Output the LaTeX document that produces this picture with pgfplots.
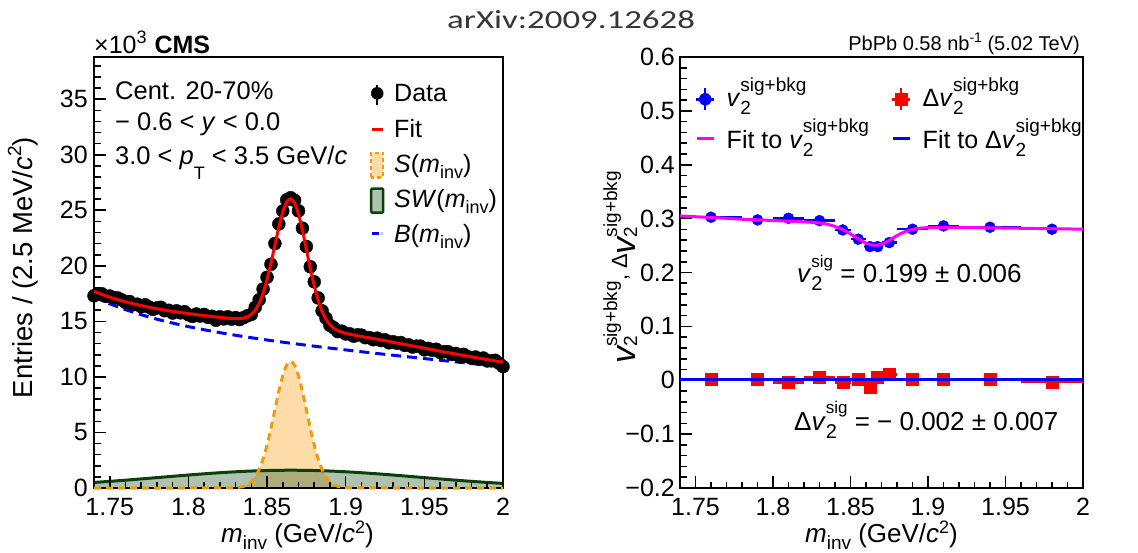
\documentclass[border=0pt]{standalone}
\usepackage{fontspec}
\setmainfont{Liberation Sans}
\newfontfamily\arxivfont[FakeStretch=1.34]{Carlito}
\usepackage{graphicx}
\usepackage{pgfplots}
\usepackage{pgfplotstable}
\pgfplotsset{compat=1.18}

\definecolor{fitred}{HTML}{FF0000}
\definecolor{bkgblue}{HTML}{0000FF}
\definecolor{sorange}{HTML}{F09B0C}
\definecolor{sfill}{HTML}{FDDCA9}
\definecolor{swline}{HTML}{0B400B}
\definecolor{swfill}{HTML}{2E5E2E}
\definecolor{vmag}{HTML}{FF00FF}
\definecolor{arxivgray}{HTML}{3A3535}

\newcommand\fs[1]{\fontsize{#1}{#1}\selectfont}
% size, shift, text
\newcommand\Sup[3]{\raisebox{#2}{\fs{#1}#3}}
\newcommand\Sub[3]{\raisebox{-#2}{\fs{#1}#3}}
% supsize, subsize, raise, lower, sup, sub
\newcommand\SupSub[6]{\rlap{\raisebox{-#4}{\fs{#2}#6}}\raisebox{#3}{\fs{#1}#5}}
\newcommand\bigv{\raisebox{-8pt}{\fs{34}\itshape v}}

% invariant mass spectrum: fit and data (x10^3 entries)
\pgfplotstableread{
m fit data
1.74 17.70 17.30
1.7425 17.56 17.46
1.745 17.43 17.48
1.7475 17.30 17.25
1.75 17.18 17.28
1.7525 17.07 17.12
1.755 16.96 17.11
1.7575 16.86 16.94
1.76 16.76 16.71
1.7625 16.67 16.79
1.765 16.58 16.50
1.7675 16.50 16.55
1.77 16.42 16.32
1.7725 16.34 16.49
1.775 16.27 16.29
1.7775 16.20 16.08
1.78 16.13 16.21
1.7825 16.07 16.27
1.785 16.01 15.96
1.7875 15.95 16.00
1.79 15.90 15.75
1.7925 15.85 15.95
1.795 15.79 15.77
1.7975 15.75 15.87
1.80 15.70 15.60
1.8025 15.65 15.45
1.805 15.61 15.66
1.8075 15.56 15.48
1.81 15.52 15.62
1.8125 15.48 15.36
1.815 15.44 15.46
1.8175 15.40 15.10
1.82 15.36 15.41
1.8225 15.32 15.22
1.825 15.29 15.41
1.8275 15.25 15.20
1.83 15.24 15.34
1.8325 15.24 15.16
1.835 15.28 15.33
1.8375 15.40 15.50
1.84 15.63 15.63
1.8425 16.02 16.27
1.845 16.65 16.95
1.8475 17.56 17.91
1.85 18.77 18.97
1.8525 20.24 20.14
1.855 21.86 22.01
1.8575 23.47 23.77
1.86 24.84 24.94
1.8625 25.74 25.94
1.865 26.03 26.13
1.8675 25.65 25.90
1.87 24.65 24.95
1.8725 23.19 23.39
1.875 21.49 21.74
1.8775 19.77 19.92
1.88 18.21 18.56
1.8825 16.91 17.11
1.885 15.90 15.95
1.8875 15.18 15.28
1.89 14.69 14.64
1.8925 14.37 14.42
1.895 14.16 14.08
1.8975 14.02 14.12
1.90 13.92 13.87
1.9025 13.83 13.88
1.905 13.77 13.67
1.9075 13.71 13.79
1.91 13.64 13.76
1.9125 13.58 13.53
1.915 13.52 13.54
1.9175 13.45 13.35
1.92 13.39 13.49
1.9225 13.32 13.27
1.925 13.26 13.34
1.9275 13.19 13.07
1.93 13.12 13.17
1.9325 13.06 13.04
1.935 12.99 13.09
1.9375 12.92 12.84
1.94 12.86 12.89
1.9425 12.79 12.69
1.945 12.72 12.77
1.9475 12.65 12.77
1.95 12.59 12.44
1.9525 12.52 12.57
1.955 12.45 12.40
1.9575 12.39 12.49
1.96 12.32 12.20
1.9625 12.25 12.27
1.965 12.19 12.27
1.9675 12.12 12.02
1.97 12.06 12.11
1.9725 11.99 11.84
1.975 11.93 12.03
1.9775 11.87 11.82
1.98 11.80 11.68
1.9825 11.74 11.79
1.985 11.68 11.58
1.9875 11.62 11.70
1.99 11.56 11.44
1.9925 11.50 11.45
1.995 11.44 11.49
1.9975 11.39 11.24
2.00 11.33 10.93
}\masstab

% background B(m)
\pgfplotstableread{
m b
1.74 17.200
1.75 16.586
1.76 16.058
1.77 15.600
1.78 15.199
1.79 14.846
1.80 14.529
1.81 14.245
1.82 13.987
1.83 13.749
1.84 13.529
1.85 13.323
1.86 13.128
1.87 12.943
1.88 12.766
1.89 12.595
1.90 12.429
1.91 12.268
1.92 12.110
1.93 11.954
1.94 11.802
1.95 11.651
1.96 11.501
1.97 11.353
1.98 11.206
1.99 11.060
2.00 10.914
}\bkgtab

% swapped K-pi SW(m)
\pgfplotstableread{
m sw
1.74 0.501
1.75 0.598
1.76 0.705
1.77 0.818
1.78 0.935
1.79 1.053
1.80 1.169
1.81 1.278
1.82 1.376
1.83 1.461
1.84 1.527
1.85 1.573
1.86 1.597
1.865 1.600
1.87 1.597
1.88 1.573
1.89 1.527
1.90 1.461
1.91 1.376
1.92 1.278
1.93 1.169
1.94 1.053
1.95 0.935
1.96 0.818
1.97 0.705
1.98 0.598
1.99 0.501
2.00 0.413
}\swtab

% signal S(m)
\pgfplotstableread{
m s
1.74 0
1.80 0
1.825 0.01
1.83 0.03
1.8325 0.07
1.835 0.15
1.8375 0.30
1.84 0.57
1.8425 1.00
1.845 1.67
1.8475 2.62
1.85 3.87
1.8525 5.38
1.855 7.05
1.8575 8.70
1.86 10.11
1.8625 11.06
1.865 11.40
1.8675 11.06
1.87 10.11
1.8725 8.70
1.875 7.05
1.8775 5.38
1.88 3.87
1.8825 2.62
1.885 1.67
1.8875 1.00
1.89 0.57
1.8925 0.30
1.895 0.15
1.8975 0.07
1.90 0.03
1.905 0.01
1.93 0
2.00 0
}\sigtab

\begin{document}
\begin{tikzpicture}[x=1pt,y=1pt]
\useasboundingbox (0,0) rectangle (1138,552);

\pgfplotsset{
  rootframe/.style={
    scale only axis, anchor=south west,
    xmin=1.74, xmax=2.0,
    xtick={1.75,1.8,1.85,1.9,1.95,2.0},
    xticklabels={1.75,1.8,1.85,1.9,1.95,2},
    minor xtick={1.74,1.75,...,2.0},
    tick align=inside, tick pos=left,
    major tick length=12pt, minor tick length=6.5pt,
    every tick/.style={black, line width=1.6pt},
    axis line style={black, line width=2pt},
    tick label style={font=\fs{25}},
    xticklabel style={inner sep=0pt, yshift=-10pt},
    clip=false,
  },
  overlay/.style={scale only axis, anchor=south west, xmin=1.74, xmax=2.0,
    hide axis, clip=false},
}

% ---------------- left panel ----------------
\begin{axis}[rootframe,
  at={(94pt,64pt)}, width=409pt, height=431pt,
  axis on top,
  ymin=0, ymax=38.8,
  ytick={0,5,10,15,20,25,30,35},
  yticklabels={0,5,10,15,20,25,30,35},
  minor ytick={0,1,...,38},
  yticklabel style={inner sep=0pt, xshift=-6pt},
  legend cell align=left,
  legend style={at={(axis description cs:0.6748,0.9473)}, anchor=north west,
    draw=none, fill=none, inner sep=0pt, outer sep=0pt, font=\fs{25},
    row sep=5.3pt, column sep=9.5pt,
    cells={anchor=base west},
    nodes={inner sep=0pt, outer sep=0pt, anchor=base west, text height=22pt, text depth=8pt}},
]
\addplot[draw=none, fill=sfill, smooth, forget plot] table[x=m,y=s] {\sigtab} \closedcycle;
\addplot[draw=none, fill=swfill, fill opacity=0.38, smooth, forget plot] table[x=m,y=sw] {\swtab} \closedcycle;
\addplot[swline, line width=3pt, smooth, forget plot] table[x=m,y=sw] {\swtab};
\addplot[bkgblue, line width=3pt, dash pattern=on 10pt off 6pt, smooth, forget plot] table[x=m,y=b] {\bkgtab};
\addplot[only marks, mark=*, mark size=6.5pt, black, forget plot] table[x=m,y=data] {\masstab};

\addlegendimage{legend image code/.code={
  \draw[black, line width=2pt] (6.5pt,-3.3pt) -- (6.5pt,16.7pt);
  \fill[black] (6.5pt,8.4pt) circle (6pt);}}
\addlegendentry{Data}
\addlegendimage{legend image code/.code={
  \draw[fitred, line width=3pt] (1pt,7.4pt) -- (12pt,7.4pt);}}
\addlegendentry{Fit}
\addlegendimage{legend image code/.code={
  \draw[fill=sfill, draw=sorange, line width=2.5pt, dash pattern=on 4pt off 3pt] (0.5pt,-5pt) rectangle (12.5pt,19.5pt);}}
\addlegendentry{\textit{S}(\textit{m}\Sub{18}{6pt}{inv})}
\addlegendimage{legend image code/.code={
  \fill[white] (0.5pt,-5pt) rectangle (12.5pt,19pt);
  \draw[fill=swfill, fill opacity=0.38, draw=swline, draw opacity=1, line width=2.5pt, rounded corners=1pt] (0.5pt,-5pt) rectangle (12.5pt,19pt);}}
\addlegendentry{\textit{SW}(\textit{m}\Sub{18}{6pt}{inv})}
\addlegendimage{legend image code/.code={
  \draw[bkgblue, line width=3pt] (1pt,9pt) -- (8pt,9pt);
  \draw[bkgblue!25, line width=3pt] (10pt,9pt) -- (12.5pt,9pt);}}
\addlegendentry{\textit{B}(\textit{m}\Sub{18}{6pt}{inv})}
\end{axis}

% signal outline and total fit drawn over the frame and the data points
\begin{axis}[overlay, at={(94pt,64pt)}, width=409pt, height=431pt, ymin=0, ymax=38.8]
\addplot[sorange, line width=3pt, dash pattern=on 7pt off 5pt, smooth] table[x=m,y=s] {\sigtab};
\addplot[fitred, line width=3pt, smooth] table[x=m,y=fit] {\masstab};
\end{axis}

% ---------------- right panel ----------------
\begin{axis}[rootframe,
  at={(680pt,64pt)}, width=403pt, height=431pt,
  ymin=-0.2, ymax=0.6,
  ytick={-0.2,-0.1,0,0.1,0.2,0.3,0.4,0.5,0.6},
  yticklabels={−0.2,−0.1,0,0.1,0.2,0.3,0.4,0.5,0.6},
  minor ytick={-0.2,-0.18,...,0.6},
  yticklabel style={inner sep=0pt, xshift=-5pt},
  legend columns=2,
  legend cell align=left,
  legend style={at={(axis description cs:0.0372,0.9497)}, anchor=north west,
    draw=none, fill=none, inner sep=0pt, outer sep=0pt, font=\fs{25},
    row sep=4.6pt, column sep=11pt,
    cells={anchor=base west},
    nodes={inner sep=0pt, outer sep=0pt, anchor=base west, text height=28pt, text depth=9pt},
    /tikz/every even column/.append style={column sep=22pt}},
]
% v2 sig+bkg
\addplot[only marks, mark=*, mark size=5.5pt, color=bkgblue, forget plot,
  error bars/.cd, x dir=both, x explicit, error mark=none,
  error bar style={line width=2.5pt, bkgblue}]
  coordinates {
  (1.76,0.3026) +- (0.02,0)
  (1.79,0.2976) +- (0.01,0)
  (1.81,0.3007) +- (0.01,0)
  (1.83,0.2963) +- (0.01,0)
  (1.845,0.279) +- (0.005,0)
  (1.855,0.2618) +- (0.005,0)
  (1.8625,0.248) +- (0.0025,0)
  (1.8675,0.248) +- (0.0025,0)
  (1.875,0.2555) +- (0.005,0)
  (1.89,0.2803) +- (0.01,0)
  (1.91,0.2865) +- (0.01,0)
  (1.94,0.284) +- (0.02,0)
  (1.98,0.2803) +- (0.02,0)
  };
% Delta v2 sig+bkg
\addplot[only marks, mark=square*, mark size=6pt, color=fitred, forget plot,
  error bars/.cd, x dir=both, x explicit, error mark=none,
  error bar style={line width=2.5pt, fitred}]
  coordinates {
  (1.76,0.002) +- (0.02,0)
  (1.79,0.002) +- (0.01,0)
  (1.81,-0.004) +- (0.01,0)
  (1.83,0.006) +- (0.01,0)
  (1.845,-0.004) +- (0.005,0)
  (1.855,0.002) +- (0.005,0)
  (1.8625,-0.012) +- (0.0025,0)
  (1.8675,0.005) +- (0.0025,0)
  (1.875,0.011) +- (0.005,0)
  (1.89,0.002) +- (0.01,0)
  (1.91,0.002) +- (0.01,0)
  (1.94,0.002) +- (0.02,0)
  (1.98,-0.003) +- (0.02,0)
  };

\addlegendimage{legend image code/.code={
  \draw[bkgblue, line width=2.5pt] (0pt,7.4pt) -- (18pt,7.4pt);
  \draw[bkgblue, line width=2.5pt] (9pt,-3.5pt) -- (9pt,18.5pt);
  \fill[bkgblue] (9pt,7.4pt) circle (6pt);}}
\addlegendentry{\textit{v}\SupSub{19}{19}{15.5pt}{8.3pt}{sig+bkg}{2}}
\addlegendimage{legend image code/.code={
  \draw[fitred, line width=2.5pt] (0pt,7.4pt) -- (18pt,7.4pt);
  \draw[fitred, line width=2.5pt] (9pt,-3.5pt) -- (9pt,18.5pt);
  \fill[fitred] (3pt,1.4pt) rectangle (15pt,13.4pt);}}
\addlegendentry{Δ\textit{v}\SupSub{19}{19}{15.5pt}{8.3pt}{sig+bkg}{2}}
\addlegendimage{legend image code/.code={
  \draw[vmag, line width=3pt] (1pt,10pt) -- (18pt,10pt);}}
\addlegendentry{Fit to \textit{v}\SupSub{19}{19}{15.5pt}{8.3pt}{sig+bkg}{2}}
\addlegendimage{legend image code/.code={
  \draw[bkgblue, line width=3pt] (1pt,10pt) -- (18pt,10pt);}}
\addlegendentry{Fit to Δ\textit{v}\SupSub{19}{19}{15.5pt}{8.3pt}{sig+bkg}{2}}
\end{axis}

% fits drawn over the points
\begin{axis}[overlay, at={(680pt,64pt)}, width=403pt, height=431pt, ymin=-0.2, ymax=0.6]
% fit to v2
\addplot[vmag, line width=3pt, smooth] coordinates {
  (1.74,0.305) (1.75,0.3035) (1.76,0.302) (1.77,0.3005) (1.78,0.299)
  (1.79,0.2978) (1.80,0.2965) (1.81,0.2953) (1.82,0.294) (1.83,0.292)
  (1.835,0.2895) (1.84,0.2855) (1.845,0.2795) (1.85,0.2715) (1.855,0.2625)
  (1.86,0.2545) (1.865,0.2505) (1.87,0.2525) (1.875,0.2595) (1.88,0.2685)
  (1.885,0.2755) (1.89,0.2800) (1.895,0.2822) (1.90,0.2832) (1.92,0.2836)
  (1.95,0.2825) (1.98,0.2812) (2.00,0.2805)};
% fit to Delta v2
\addplot[bkgblue, line width=3pt] coordinates {(1.74,0.002) (2.0,0.002)};
\end{axis}

% ---------------- texts ----------------
\node[anchor=base west, inner sep=0pt, text=arxivgray] at (447,523) {\arxivfont\fs{26}arXiv:2009.12628};
\node[anchor=base west, inner sep=0pt] at (94,498.7) {\fs{25}×10\Sup{18}{10pt}{3}\hspace{8pt}\textbf{CMS}};
\node[anchor=base east, inner sep=0pt] at (1080,501) {\fs{20}PbPb 0.58 nb\Sup{14}{8pt}{-1} (5.02 TeV)};

\node[anchor=base west, inner sep=0pt] at (115,452.7) {\fs{25.5}Cent. 20-70\%};
\node[anchor=base west, inner sep=0pt] at (115,421) {\fs{25.5}− 0.6 < \textit{y} < 0.0};
\node[anchor=base west, inner sep=0pt] at (115,387) {\fs{25.5}3.0 < \textit{p}\Sub{18}{15pt}{T} < 3.5 GeV/\textit{c}};

\node[anchor=base west, inner sep=0pt] at (797,269) {\fs{26}\textit{v}\SupSub{17}{20}{15pt}{8pt}{sig}{2} = 0.199 ± 0.006};
\node[anchor=base west, inner sep=0pt] at (794,121.3) {\fs{26}Δ\textit{v}\SupSub{17}{20}{17pt}{8pt}{sig}{2} = − 0.002 ± 0.007};

\node[anchor=base, inner sep=0pt] at (297.5,10) {\fs{26}\textit{m}\Sub{19}{7pt}{inv} (GeV/\textit{c}\Sup{18}{9pt}{2})};
\node[anchor=base, inner sep=0pt] at (881.5,10) {\fs{26}\textit{m}\Sub{19}{7pt}{inv} (GeV/\textit{c}\Sup{18}{9pt}{2})};

\node[rotate=90, anchor=base, inner sep=0pt] at (32,284.5) {\fs{27.5}Entries / (2.5 MeV/\textit{c}\Sup{19}{11pt}{2})};
\node[rotate=90, anchor=base, inner sep=0pt] at (627,284.5) {\fs{22}\bigv\SupSub{19}{19}{10pt}{10pt}{sig+bkg}{2}, Δ\bigv\SupSub{19}{19}{10pt}{10pt}{sig+bkg}{2}};
\end{tikzpicture}
\end{document}
